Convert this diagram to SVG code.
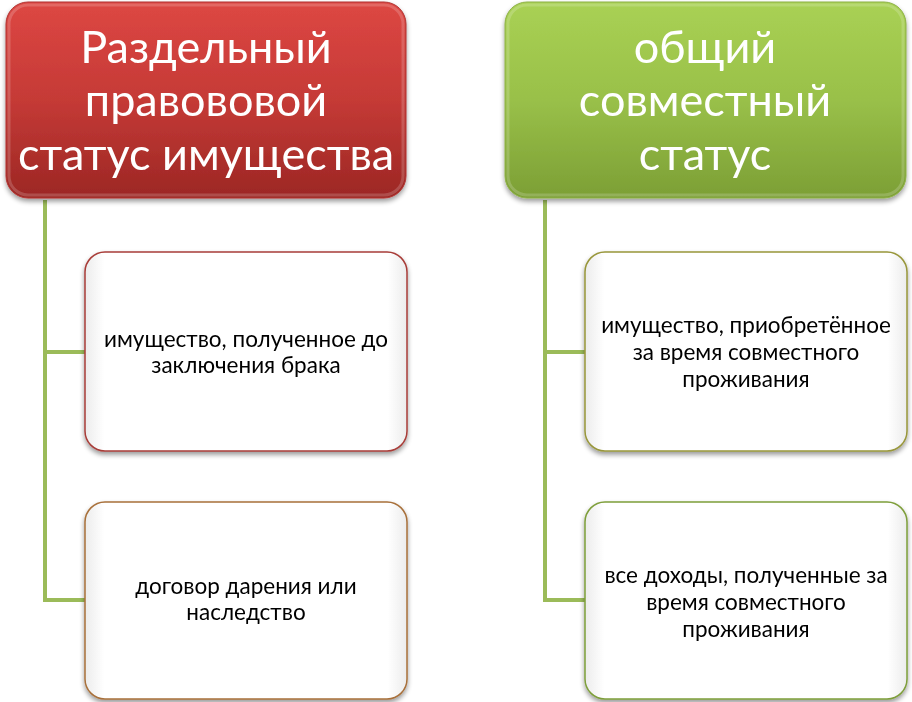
<svg xmlns="http://www.w3.org/2000/svg" width="912" height="702" viewBox="0 0 912 702">
<defs>
<linearGradient id="gRed" x1="0" y1="0" x2="0" y2="1">
<stop offset="0" stop-color="#dd4743"/>
<stop offset="0.5" stop-color="#c53a36"/>
<stop offset="1" stop-color="#9c2724"/>
</linearGradient>
<linearGradient id="gGreen" x1="0" y1="0" x2="0" y2="1">
<stop offset="0" stop-color="#a9d154"/>
<stop offset="0.5" stop-color="#99c049"/>
<stop offset="1" stop-color="#7c9f35"/>
</linearGradient>
<linearGradient id="gWhite" x1="0" y1="0" x2="1" y2="0">
<stop offset="0" stop-color="#ececec"/>
<stop offset="0.06" stop-color="#ffffff"/>
<stop offset="0.94" stop-color="#ffffff"/>
<stop offset="1" stop-color="#ececec"/>
</linearGradient>
<filter id="sh" x="-10%" y="-10%" width="120%" height="125%">
<feGaussianBlur in="SourceAlpha" stdDeviation="2.5"/>
<feOffset dx="0" dy="3" result="b"/>
<feComponentTransfer><feFuncA type="linear" slope="0.4"/></feComponentTransfer>
<feMerge><feMergeNode/><feMergeNode in="SourceGraphic"/></feMerge>
</filter>
</defs>
<style>
.title{font-family:Lato,"Open Sans","DejaVu Sans",sans-serif;font-size:45px;fill:#ffffff;text-anchor:middle}
.item{font-family:Lato,"Open Sans","DejaVu Sans",sans-serif;font-size:22.5px;fill:#000000;text-anchor:middle}
.conn{fill:none;stroke:#9bbb59;stroke-width:4}
.child{fill:url(#gWhite);stroke-width:1.5}
.rim{fill:none;stroke:#ffffff;stroke-opacity:0.18;stroke-width:3}
</style>
<g id="connectors">
<path class="conn" d="M45,200 V600 H85 M45,352 H85"/>
<path class="conn" d="M545,200 V600 H585 M545,352 H585"/>
</g>
<g id="node-red" filter="url(#sh)">
<rect x="6" y="2" width="400" height="196" rx="22" fill="url(#gRed)" stroke="#b03532" stroke-width="1"/>
<rect class="rim" x="9" y="5" width="394" height="190" rx="19"/>
<text class="title" x="206" y="63">Раздельный</text>
<text class="title" x="206" y="116">правововой</text>
<text class="title" x="206" y="170">статус имущества</text>
</g>
<g id="node-green" filter="url(#sh)">
<rect x="505" y="2" width="401" height="196" rx="22" fill="url(#gGreen)" stroke="#8db046" stroke-width="1"/>
<rect class="rim" x="508" y="5" width="395" height="190" rx="19"/>
<text class="title" x="705" y="63">общий</text>
<text class="title" x="705" y="116">совместный</text>
<text class="title" x="705" y="170">статус</text>
</g>
<g id="node-l1" filter="url(#sh)">
<rect class="child" x="85" y="252" width="322" height="199" rx="20" stroke="#a83c38"/>
<text class="item" x="246" y="347">имущество, полученное до</text>
<text class="item" x="246" y="373">заключения брака</text>
</g>
<g id="node-l2" filter="url(#sh)">
<rect class="child" x="85" y="502" width="322" height="197" rx="20" stroke="#a8703a"/>
<text class="item" x="246" y="594">договор дарения или</text>
<text class="item" x="246" y="620">наследство</text>
</g>
<g id="node-r1" filter="url(#sh)">
<rect class="child" x="585" y="252" width="322" height="199" rx="20" stroke="#98963a"/>
<text class="item" x="746" y="333">имущество, приобретённое</text>
<text class="item" x="746" y="360">за время совместного</text>
<text class="item" x="746" y="387">проживания</text>
</g>
<g id="node-r2" filter="url(#sh)">
<rect class="child" x="585" y="502" width="322" height="197" rx="20" stroke="#7e9e3a"/>
<text class="item" x="746" y="583">все доходы, полученные за</text>
<text class="item" x="746" y="610">время совместного</text>
<text class="item" x="746" y="637">проживания</text>
</g>
</svg>
